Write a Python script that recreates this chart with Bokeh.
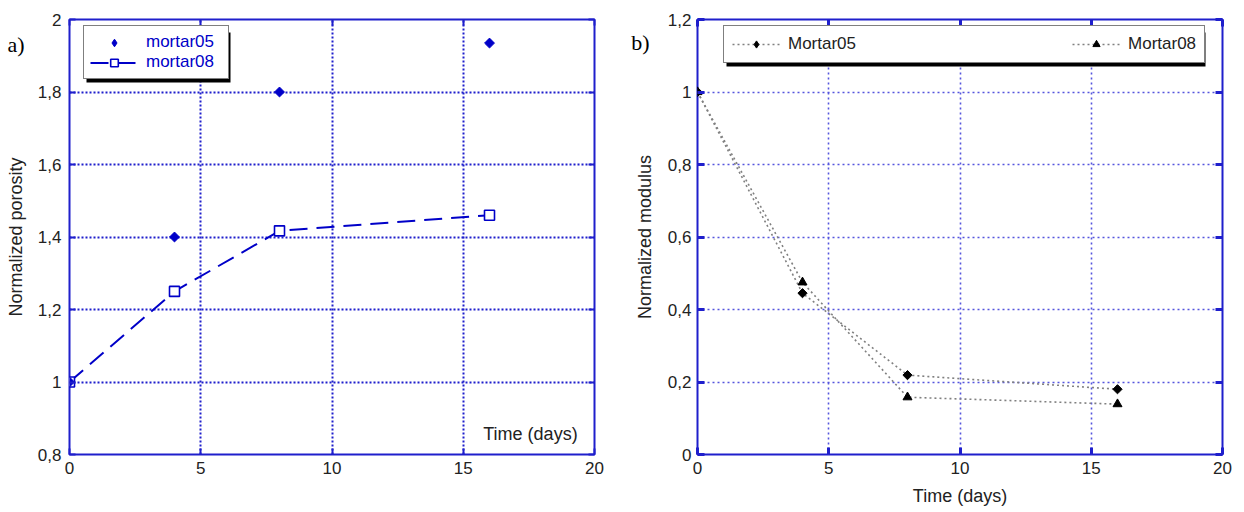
import math
from bokeh.plotting import figure
from bokeh.models import (Range1d, FixedTicker, CustomJSTickFormatter, LinearAxis,
                          Legend, LegendItem, Label, BoxAnnotation)
from bokeh.layouts import row
from bokeh.embed import file_html
from bokeh.resources import INLINE

# ---------------- data ----------------
time_days = [0, 4, 8, 16]
porosity_mortar05 = [1.0, 1.40, 1.80, 1.935]
porosity_mortar08 = [1.0, 1.25, 1.417, 1.46]
modulus_mortar05 = [1.0, 0.445, 0.219, 0.18]
modulus_mortar08 = [1.0, 0.475, 0.158, 0.139]

x_ticks = [0, 5, 10, 15, 20]
x_tick_labels = ["0", "5", "10", "15", "20"]
porosity_ticks = [0.8, 1.0, 1.2, 1.4, 1.6, 1.8, 2.0]
porosity_tick_labels = ["0,8", "1", "1,2", "1,4", "1,6", "1,8", "2"]
modulus_ticks = [0.0, 0.2, 0.4, 0.6, 0.8, 1.0, 1.2]
modulus_tick_labels = ["0", "0,2", "0,4", "0,6", "0,8", "1", "1,2"]
panel_labels = ["a)", "b)"]

# ---------------- styles ----------------
BLUE = "#1f1fcc"
MARK_BLUE = "#0000c8"
TEXT = "#222222"
FONT = "Liberation Sans"
H = 508


def label_formatter(ticks, labels):
    return CustomJSTickFormatter(args=dict(tv=ticks, tl=labels), code="""
        let best = 0, d = Infinity;
        for (let i = 0; i < tv.length; i++) {
            const e = Math.abs(tv[i] - tick);
            if (e < d) { d = e; best = i; }
        }
        return tl[best];
    """)


def style_axis(ax, ticks, labels, tick_w, tick_len, show=True):
    ax.ticker = FixedTicker(ticks=ticks)
    ax.axis_line_color = None
    ax.major_tick_in = tick_len
    ax.major_tick_out = 0
    ax.minor_tick_line_color = None
    ax.major_tick_line_color = BLUE
    ax.major_tick_line_width = tick_w
    if show:
        ax.formatter = label_formatter(ticks, labels)
        ax.major_label_text_font = FONT
        ax.major_label_text_font_size = "17px"
        ax.major_label_text_color = TEXT
    else:
        ax.formatter = CustomJSTickFormatter(code="return '';")
        ax.major_label_text_font_size = "1px"
        ax.major_label_standoff = 0


def panel_tag(p, y, text, standoff):
    # outer left axis carrying only the panel tag ("a)" / "b)") as its label
    ax = LinearAxis(ticker=FixedTicker(ticks=[y]),
                    formatter=CustomJSTickFormatter(args=dict(t=text),
                                                    code="return t;"))
    ax.axis_line_color = None
    ax.major_tick_line_color = None
    ax.minor_tick_line_color = None
    ax.major_tick_out = 0
    ax.major_tick_in = 0
    ax.major_label_standoff = standoff
    ax.major_label_text_font = "Liberation Serif"
    ax.major_label_text_font_size = "22px"
    ax.major_label_text_color = "black"
    p.add_layout(ax, "left")


def make_fig(width, ml, mr, mt, mb, yr):
    p = figure(width=width, height=H, x_range=Range1d(0, 20), y_range=yr,
               output_backend="svg", toolbar_location=None,
               min_border_left=ml, min_border_right=mr,
               min_border_top=mt, min_border_bottom=mb)
    p.outline_line_color = BLUE
    p.outline_line_width = 2
    p.outline_line_alpha = 1
    p.background_fill_color = "white"
    p.border_fill_color = "white"
    return p


def y_title(ax, text, standoff):
    ax.axis_label = text
    ax.axis_label_text_font = FONT
    ax.axis_label_text_font_size = "18px"
    ax.axis_label_text_font_style = "normal"
    ax.axis_label_text_color = TEXT
    ax.axis_label_standoff = standoff


# ================= panel a) =================
p1 = make_fig(628, 69, 34, 17, H - 17 - 440, Range1d(0.8, 2.0))
style_axis(p1.xaxis[0], x_ticks, x_tick_labels, 2, 6)
p1.xaxis[0].major_label_standoff = 7
style_axis(p1.yaxis[0], porosity_ticks, porosity_tick_labels, 2, 6)
p1.yaxis[0].major_label_standoff = 8
y_title(p1.yaxis[0], "Normalized porosity", 9)
top1 = LinearAxis()
style_axis(top1, x_ticks, x_tick_labels, 2, 6, show=False)
p1.add_layout(top1, "above")
right1 = LinearAxis()
style_axis(right1, porosity_ticks, porosity_tick_labels, 2, 6, show=False)
p1.add_layout(right1, "right")
panel_tag(p1, 1.932, panel_labels[0], -22)

for g in (p1.xgrid[0], p1.ygrid[0]):
    g.grid_line_color = BLUE
    g.grid_line_width = 2
    g.grid_line_dash = "2 2"
    g.grid_line_alpha = 1
p1.xgrid[0].ticker = FixedTicker(ticks=x_ticks)
p1.ygrid[0].ticker = FixedTicker(ticks=porosity_ticks)

l08 = p1.line(time_days, porosity_mortar08, line_color=MARK_BLUE, line_width=2,
              line_dash="18 9")
s08 = p1.scatter(time_days, porosity_mortar08, marker="square", size=10,
                 line_color=MARK_BLUE, line_width=1.6, fill_color="white")
s05 = p1.scatter(time_days, porosity_mortar05, marker="square", size=7,
                 angle=math.pi / 4, line_color=MARK_BLUE, fill_color=MARK_BLUE)
# hidden twin used only for the legend swatch (swatches ignore marker rotation)
s05_key = p1.scatter(time_days, porosity_mortar05, marker="diamond", size=13,
                     line_color=MARK_BLUE, fill_color=MARK_BLUE, visible=False)

shadow1 = BoxAnnotation(left=17, right=161, bottom=372, top=422,
                        left_units="screen", right_units="screen",
                        bottom_units="screen", top_units="screen",
                        fill_color="black", fill_alpha=1, line_color=None,
                        level="glyph")
p1.add_layout(shadow1)
leg1 = Legend(items=[LegendItem(label="mortar05", renderers=[s05_key]),
                     LegendItem(label="mortar08", renderers=[l08, s08])],
              location=(14, 375), orientation="vertical",
              padding=6, spacing=0, margin=0, glyph_width=48, glyph_height=19,
              label_height=19, label_width=76, label_standoff=8,
              label_text_font=FONT, label_text_font_size="17px",
              label_text_color=MARK_BLUE, border_line_color="black",
              border_line_width=1.5, background_fill_alpha=1,
              background_fill_color="white", inactive_fill_alpha=0)
p1.add_layout(leg1, "center")

p1.add_layout(Label(x=17.56, y=0.857, text="Time (days)", text_align="center",
                    text_baseline="middle", text_font=FONT,
                    text_font_size="18px", text_color=TEXT))

# ================= panel b) =================
p2 = make_fig(614, 68, 20, 19, H - 19 - 438, Range1d(0.0, 1.2))
style_axis(p2.xaxis[0], x_ticks, x_tick_labels, 3, 7)
p2.xaxis[0].major_label_standoff = 7
p2.xaxis[0].axis_label = "Time (days)"
p2.xaxis[0].axis_label_text_font = FONT
p2.xaxis[0].axis_label_text_font_size = "18px"
p2.xaxis[0].axis_label_text_font_style = "normal"
p2.xaxis[0].axis_label_text_color = TEXT
p2.xaxis[0].axis_label_standoff = 9
style_axis(p2.yaxis[0], modulus_ticks, modulus_tick_labels, 3, 7)
p2.yaxis[0].major_label_standoff = 6
y_title(p2.yaxis[0], "Normalized modulus", 10)
top2 = LinearAxis()
style_axis(top2, x_ticks, x_tick_labels, 3, 7, show=False)
p2.add_layout(top2, "above")
right2 = LinearAxis()
style_axis(right2, modulus_ticks, modulus_tick_labels, 3, 7, show=False)
p2.add_layout(right2, "right")
panel_tag(p2, 1.137, panel_labels[1], -18)

for g in (p2.xgrid[0], p2.ygrid[0]):
    g.grid_line_color = "#5555dd"
    g.grid_line_width = 1.6
    g.grid_line_dash = "2 3"
    g.grid_line_alpha = 1
p2.xgrid[0].ticker = FixedTicker(ticks=x_ticks)
p2.ygrid[0].ticker = FixedTicker(ticks=modulus_ticks)

GRAY = "#808080"
ml05 = p2.line(time_days, modulus_mortar05, line_color=GRAY, line_width=1.6,
               line_dash="2 3")
ml08 = p2.line(time_days, modulus_mortar08, line_color=GRAY, line_width=1.6,
               line_dash="2 3")
ms05 = p2.scatter(time_days, modulus_mortar05, marker="square", size=6.5,
                  angle=math.pi / 4, line_color="black", fill_color="black")
ms08 = p2.scatter(time_days, modulus_mortar08, marker="triangle", size=9,
                  line_color="black", fill_color="black")
ms05_key = p2.scatter(time_days, modulus_mortar05, marker="diamond", size=11,
                      line_color="black", fill_color="black", visible=False)

shadow2 = BoxAnnotation(left=29, right=508, bottom=388, top=422,
                        left_units="screen", right_units="screen",
                        bottom_units="screen", top_units="screen",
                        fill_color="black", fill_alpha=1, line_color=None,
                        level="glyph")
p2.add_layout(shadow2)
leg2 = Legend(items=[LegendItem(label="Mortar05", renderers=[ml05, ms05_key]),
                     LegendItem(label="Mortar08", renderers=[ml08, ms08])],
              location=(26, 391), orientation="horizontal",
              padding=8, spacing=216, margin=0, glyph_width=48, glyph_height=18,
              label_height=18, label_width=68, label_standoff=8,
              label_text_font=FONT, label_text_font_size="17px",
              label_text_color=TEXT, border_line_color="black",
              border_line_width=1.5, background_fill_alpha=1,
              background_fill_color="white", inactive_fill_alpha=0)
p2.add_layout(leg2, "center")

layout = row(p1, p2, spacing=0)
open("out.html", "w").write(file_html(layout, INLINE))
